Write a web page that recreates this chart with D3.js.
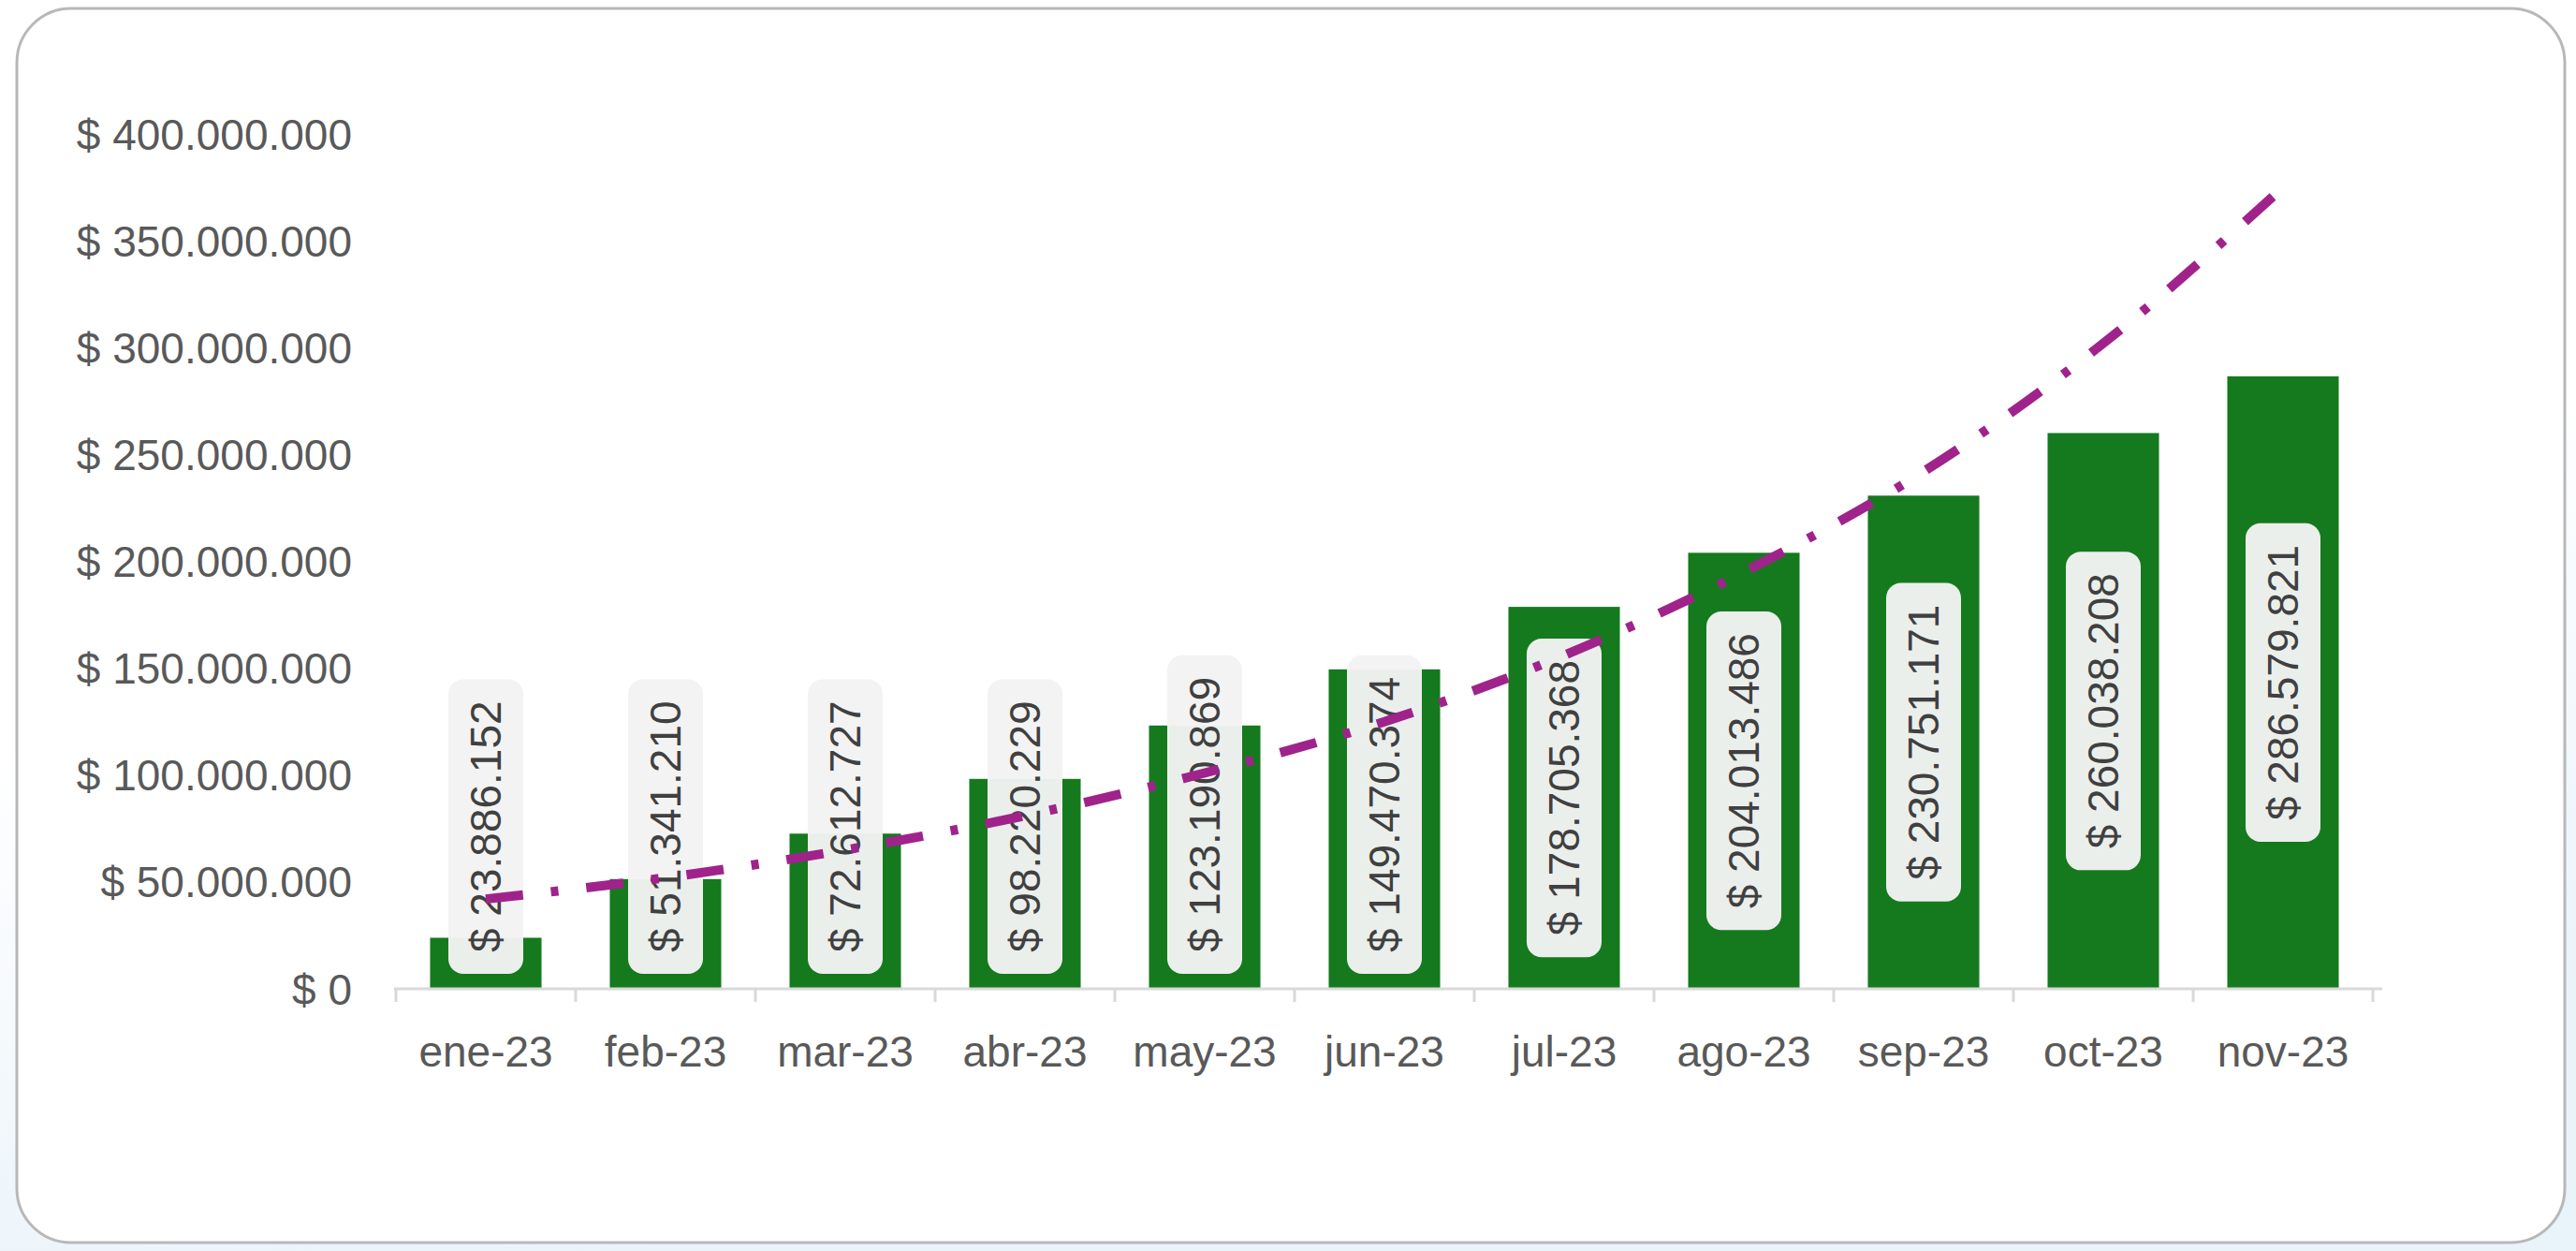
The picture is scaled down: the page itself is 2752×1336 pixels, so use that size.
<!DOCTYPE html>
<html>
<head>
<meta charset="utf-8">
<script src="https://cdn.jsdelivr.net/npm/d3@7"></script>
<style>
  html, body { margin: 0; padding: 0; background: #ffffff; }
  svg { display: block; }
  text { font-family: "Liberation Sans", Arial, sans-serif; }
</style>
</head>
<body>
<svg id="chart" width="2752" height="1336"></svg>
<script>
// ---- Data ----
const categories = ["ene-23","feb-23","mar-23","abr-23","may-23","jun-23","jul-23","ago-23","sep-23","oct-23","nov-23"];
const salesValues = [23886152, 51341210, 72612727, 98220229, 123190869, 149470374, 178705368, 204013486, 230751171, 260038208, 286579821];
// trend line (in pesos)
const trendValues = [42000000, 52000000, 65000000, 81000000, 101000000, 125000000, 156000000, 195000000, 242000000, 302000000, 375000000];
const yTickValues = [0, 50000000, 100000000, 150000000, 200000000, 250000000, 300000000, 350000000, 400000000];

// ---- Layout ----
const W = 2752, H = 1336;
const svg = d3.select("#chart");

// background tint outside the card
const defs = svg.append("defs");
const bg = defs.append("linearGradient").attr("id","bgGrad").attr("x1","0").attr("y1","0").attr("x2","0.3").attr("y2","1");
bg.append("stop").attr("offset","0.55").attr("stop-color","#ffffff");
bg.append("stop").attr("offset","1").attr("stop-color","#e9f3fa");
svg.append("rect").attr("width",W).attr("height",H).attr("fill","url(#bgGrad)");

// card
svg.append("rect")
  .attr("x",18).attr("y",9).attr("width",2722).attr("height",1318)
  .attr("rx",58).attr("ry",58)
  .attr("fill","#ffffff").attr("stroke","#b8b8b8").attr("stroke-width",3);

const x = d3.scaleBand().domain(categories).range([423, 2535]).paddingInner(0.38).paddingOuter(0.19);
const y = d3.scaleLinear().domain([0, 400000000]).range([1056, 143]);

const fmt = v => "$ " + d3.format(",")(v).replace(/,/g, ".");
const FONT = 46;

// y axis labels
const yAxis = d3.axisLeft(y).tickValues(yTickValues).tickSize(0).tickPadding(0)
  .tickFormat(d => fmt(d));
const gy = svg.append("g").attr("transform","translate(376,0)").call(yAxis);
gy.select(".domain").remove();
gy.selectAll("text").attr("font-size",FONT).attr("fill","#595959")
  .attr("font-family","'Liberation Sans', Arial, sans-serif").attr("dy","0.35em");

// bars
svg.append("g").selectAll("rect").data(categories).join("rect")
  .attr("x", d => x(d))
  .attr("width", x.bandwidth())
  .attr("y", (d,i) => y(salesValues[i]))
  .attr("height", (d,i) => y(0) - y(salesValues[i]))
  .attr("fill", "#157a1e");

// x axis
const xAxis = d3.axisBottom(x).tickSize(0).tickPadding(0);
const gx = svg.append("g").attr("transform", `translate(0,${y(0)})`).call(xAxis);
gx.select(".domain").attr("stroke","#d9d9d9").attr("stroke-width",3)
  .attr("d", `M421,0H2545`);
gx.selectAll("text").attr("font-size",FONT).attr("fill","#595959")
  .attr("font-family","'Liberation Sans', Arial, sans-serif")
  .attr("y", 67).attr("dy","0.35em");
// tick marks at category boundaries
const step = x.step();
const bounds = d3.range(categories.length + 1).map(i => x(categories[0]) - x.paddingOuter()*step + i*step);
gx.append("g").selectAll("line").data(bounds).join("line")
  .attr("x1", d => d).attr("x2", d => d).attr("y1", 0).attr("y2", 14)
  .attr("stroke","#d9d9d9").attr("stroke-width",3);

// data labels (rounded boxes, rotated text)
const labelG = svg.append("g");
categories.forEach((c, i) => {
  const v = salesValues[i];
  const cx = x(c) + x.bandwidth()/2;
  const g = labelG.append("g");
  const t = g.append("text")
    .attr("font-size",FONT).attr("fill","#404040")
    .attr("text-anchor","middle").attr("dy","0.35em")
    .text(fmt(v));
  const len = t.node().getComputedTextLength();
  const boxLen = len + 46;
  const boxW = 80;
  let cy = (y(v) + y(0)) / 2;
  const maxBottom = y(0) - 16;
  if (cy + boxLen/2 > maxBottom) cy = maxBottom - boxLen/2;
  g.attr("transform", `translate(${cx},${cy}) rotate(-90)`);
  g.insert("rect","text")
    .attr("x", -boxLen/2).attr("y", -boxW/2)
    .attr("width", boxLen).attr("height", boxW)
    .attr("rx", 16).attr("ry", 16)
    .attr("fill","#f3f3f3").attr("fill-opacity",0.97);
});

// trend line (drawn above labels)
const line = d3.line()
  .x((d,i) => x(categories[i]) + x.bandwidth()/2)
  .y(d => y(d))
  .curve(d3.curveMonotoneX);
svg.append("path").datum(trendValues)
  .attr("d", line)
  .attr("fill","none")
  .attr("stroke","#a0238c")
  .attr("stroke-width",10)
  .attr("stroke-dasharray","40 30 8 30");
</script>
</body>
</html>
